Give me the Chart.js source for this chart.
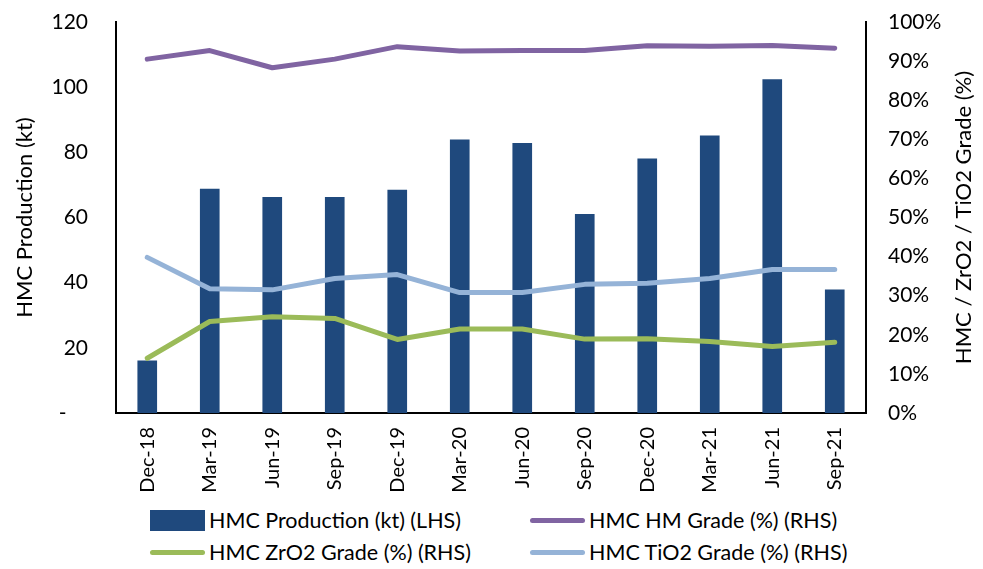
<!DOCTYPE html>
<html>
<head>
<meta charset="utf-8">
<script src="https://cdn.jsdelivr.net/npm/chart.js@4"></script>
<style>
  body { margin: 0; background: #fff; font-family: Lato, sans-serif; }
  #wrap { position: relative; width: 983px; height: 569px; }
  #legend { position: absolute; left: 150px; top: 509px; width: 780px; display: grid;
    grid-template-columns: 380px 400px; row-gap: 10px; font-size: 21.5px; color: #000; }
  .item { display: flex; align-items: center; height: 22px; white-space: nowrap; }
  .sw { width: 55px; margin-right: 4px; }
</style>
</head>
<body>
<div id="wrap">
  <canvas id="chart" width="983" height="505"></canvas>
  <div id="legend"></div>
</div>
<script>
const quarters = ["Dec-18", "Mar-19", "Jun-19", "Sep-19", "Dec-19", "Mar-20", "Jun-20", "Sep-20", "Dec-20", "Mar-21", "Jun-21", "Sep-21"];
const production = [16, 68.7, 66.2, 66.2, 68.4, 83.8, 82.8, 61.0, 78.0, 85.1, 102.3, 37.8];
const hmGrade = [90.5, 92.7, 88.3, 90.5, 93.7, 92.6, 92.7, 92.7, 93.9, 93.8, 94.0, 93.3];
const zrGrade = [14.0, 23.4, 24.6, 24.2, 18.8, 21.5, 21.5, 18.9, 19.0, 18.3, 17.0, 18.1];
const tiGrade = [39.8, 31.8, 31.5, 34.4, 35.4, 30.8, 30.8, 32.9, 33.2, 34.4, 36.7, 36.7];

const leftTicks = [0, 20, 40, 60, 80, 100, 120];
const rightTicks = [0, 10, 20, 30, 40, 50, 60, 70, 80, 90, 100];

const FONT = "Lato";

// right axis title reads bottom-to-top like the left one
const rightTitle = {
  id: "rightTitle",
  afterDraw(chart) {
    const a = chart.chartArea, ctx = chart.ctx;
    ctx.save();
    ctx.translate(964, (a.top + a.bottom) / 2);
    ctx.rotate(-Math.PI / 2);
    ctx.font = "22px " + FONT;
    ctx.fillStyle = "#000";
    ctx.textAlign = "center";
    ctx.textBaseline = "middle";
    ctx.fillText("HMC / ZrO2 / TiO2 Grade (%)", 0, 0);
    ctx.restore();
  }
};

const line = (label, data, color) => ({
  type: "line", label, data, yAxisID: "y1", borderColor: color, backgroundColor: color,
  borderWidth: 5, pointRadius: 0, tension: 0, order: 1, borderJoinStyle: "round", borderCapStyle: "round"
});

// fixed axis width, and no extra top/bottom room from the tick padding
const fixWidth = w => s => { s.width = w; s.paddingTop = 0; s.paddingBottom = 0; };

const chart = new Chart(document.getElementById("chart"), {
  data: {
    labels: quarters,
    datasets: [
      { type: "bar", label: "HMC Production (kt) (LHS)", data: production, yAxisID: "y",
        backgroundColor: "#1f497d", barThickness: 19, order: 2 },
      line("HMC HM Grade (%) (RHS)", hmGrade, "#8064a2"),
      line("HMC ZrO2 Grade (%) (RHS)", zrGrade, "#9bbb59"),
      line("HMC TiO2 Grade (%) (RHS)", tiGrade, "#95b3d7")
    ]
  },
  options: {
    responsive: false,
    animation: false,
    layout: { padding: { top: 22, left: 0, right: 0 } },
    plugins: { legend: { display: false }, tooltip: { enabled: false } },
    scales: {
      x: {
        grid: { display: false, drawTicks: false },
        border: { color: "#000", width: 2 },
        ticks: { color: "#000", font: { family: FONT, size: 20 }, minRotation: 90, maxRotation: 90, padding: 14 },
        afterFit: s => { s.height = 92; }
      },
      y: {
        position: "left", min: 0, max: 120,
        afterBuildTicks: s => { s.ticks = leftTicks.map(v => ({ value: v })); },
        grid: { display: false, drawOnChartArea: false, drawTicks: true, tickLength: 8, tickColor: "#000", tickWidth: 2 },
        border: { color: "#000", width: 2 },
        ticks: { color: "#000", font: { family: FONT, size: 21 }, padding: 20,
          callback: v => v === 0 ? "-    " : v },
        title: { display: true, text: "HMC Production (kt)", color: "#000", font: { family: FONT, size: 22 }, padding: { top: 12, bottom: 0 } },
        afterFit: fixWidth(116)
      },
      y1: {
        position: "right", min: 0, max: 100,
        afterBuildTicks: s => { s.ticks = rightTicks.map(v => ({ value: v })); },
        grid: { display: false, drawOnChartArea: false, drawTicks: true, tickLength: 7, tickColor: "#000", tickWidth: 2 },
        border: { color: "#000", width: 2 },
        ticks: { color: "#000", font: { family: FONT, size: 21 }, padding: 15, callback: v => v + "%" },
        afterFit: fixWidth(117)
      }
    }
  },
  plugins: [rightTitle]
});

// legend in two columns, built from the datasets
const lg = document.getElementById("legend");
[0, 1, 2, 3].forEach(i => {
  const ds = chart.data.datasets[i];
  const isBar = ds.type === "bar";
  const el = document.createElement("div");
  el.className = "item";
  el.innerHTML = '<span class="sw" style="height:' + (isBar ? 21 : 5) + 'px;background:' + ds.backgroundColor +
    ';border-radius:' + (isBar ? 0 : 3) + 'px"></span><span>' + ds.label + '</span>';
  lg.appendChild(el);
});
</script>
</body>
</html>
